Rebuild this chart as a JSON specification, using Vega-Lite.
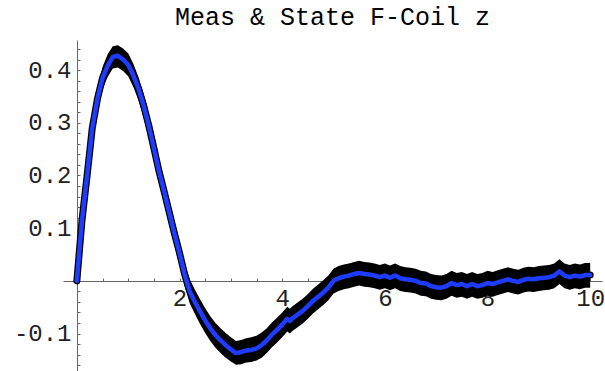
{
  "$schema": "https://vega.github.io/schema/vega-lite/v6.json",
  "width": 539,
  "height": 331,
  "autosize": {"type": "none"},
  "padding": {"left": 63, "top": 40, "right": 3, "bottom": 0},
  "background": "white",
  "title": {"text": "Meas & State F-Coil z", "font": "Liberation Mono", "fontSize": 25, "fontWeight": "normal", "color": "#000000", "anchor": "middle", "baseline": "alphabetic", "offset": -13},
  "config": {
    "view": {"stroke": null},
    "axis": {"grid": false, "domainColor": "#666666", "tickColor": "#666666", "labelColor": "#222222", "labelFont": "Liberation Mono", "labelFontSize": 24, "domainWidth": 1, "tickWidth": 1, "labelOverlap": false, "labelFlush": false}
  },
  "data": {"values": [
    {"x": 0, "est": 0, "lo": -0.006, "hi": 0.006},
    {"x": 0.1, "est": 0.115, "lo": 0.097, "hi": 0.134},
    {"x": 0.2, "est": 0.2, "lo": 0.178, "hi": 0.222},
    {"x": 0.3, "est": 0.29, "lo": 0.268, "hi": 0.311},
    {"x": 0.4, "est": 0.345, "lo": 0.323, "hi": 0.366},
    {"x": 0.5, "est": 0.385, "lo": 0.363, "hi": 0.406},
    {"x": 0.6, "est": 0.408, "lo": 0.387, "hi": 0.43},
    {"x": 0.7, "est": 0.425, "lo": 0.403, "hi": 0.445},
    {"x": 0.8, "est": 0.427, "lo": 0.405, "hi": 0.447},
    {"x": 0.9, "est": 0.42, "lo": 0.398, "hi": 0.441},
    {"x": 1.0, "est": 0.41, "lo": 0.388, "hi": 0.432},
    {"x": 1.1, "est": 0.39, "lo": 0.368, "hi": 0.412},
    {"x": 1.2, "est": 0.365, "lo": 0.343, "hi": 0.387},
    {"x": 1.3, "est": 0.333, "lo": 0.311, "hi": 0.355},
    {"x": 1.4, "est": 0.295, "lo": 0.273, "hi": 0.317},
    {"x": 1.5, "est": 0.252, "lo": 0.23, "hi": 0.274},
    {"x": 1.6, "est": 0.208, "lo": 0.186, "hi": 0.23},
    {"x": 1.7, "est": 0.17, "lo": 0.148, "hi": 0.192},
    {"x": 1.8, "est": 0.13, "lo": 0.108, "hi": 0.152},
    {"x": 1.9, "est": 0.09, "lo": 0.068, "hi": 0.112},
    {"x": 2.0, "est": 0.053, "lo": 0.031, "hi": 0.075},
    {"x": 2.1, "est": 0.012, "lo": -0.01, "hi": 0.034},
    {"x": 2.2, "est": -0.02, "lo": -0.043, "hi": 0.003},
    {"x": 2.3, "est": -0.04, "lo": -0.063, "hi": -0.017},
    {"x": 2.4, "est": -0.058, "lo": -0.082, "hi": -0.035},
    {"x": 2.5, "est": -0.075, "lo": -0.099, "hi": -0.052},
    {"x": 2.6, "est": -0.09, "lo": -0.114, "hi": -0.067},
    {"x": 2.7, "est": -0.103, "lo": -0.127, "hi": -0.08},
    {"x": 2.8, "est": -0.113, "lo": -0.137, "hi": -0.09},
    {"x": 2.9, "est": -0.122, "lo": -0.146, "hi": -0.099},
    {"x": 3.0, "est": -0.13, "lo": -0.153, "hi": -0.107},
    {"x": 3.1, "est": -0.137, "lo": -0.159, "hi": -0.114},
    {"x": 3.2, "est": -0.135, "lo": -0.158, "hi": -0.112},
    {"x": 3.3, "est": -0.132, "lo": -0.155, "hi": -0.109},
    {"x": 3.4, "est": -0.131, "lo": -0.154, "hi": -0.107},
    {"x": 3.5, "est": -0.128, "lo": -0.151, "hi": -0.104},
    {"x": 3.6, "est": -0.122, "lo": -0.146, "hi": -0.098},
    {"x": 3.7, "est": -0.113, "lo": -0.137, "hi": -0.09},
    {"x": 3.8, "est": -0.102, "lo": -0.126, "hi": -0.079},
    {"x": 3.9, "est": -0.093, "lo": -0.117, "hi": -0.07},
    {"x": 4.0, "est": -0.083, "lo": -0.107, "hi": -0.06},
    {"x": 4.1, "est": -0.072, "lo": -0.096, "hi": -0.049},
    {"x": 4.15, "est": -0.076, "lo": -0.1, "hi": -0.053},
    {"x": 4.2, "est": -0.071, "lo": -0.095, "hi": -0.048},
    {"x": 4.3, "est": -0.064, "lo": -0.088, "hi": -0.041},
    {"x": 4.4, "est": -0.057, "lo": -0.081, "hi": -0.034},
    {"x": 4.5, "est": -0.048, "lo": -0.072, "hi": -0.025},
    {"x": 4.6, "est": -0.038, "lo": -0.062, "hi": -0.015},
    {"x": 4.7, "est": -0.03, "lo": -0.054, "hi": -0.007},
    {"x": 4.8, "est": -0.022, "lo": -0.046, "hi": 0.001},
    {"x": 4.9, "est": -0.013, "lo": -0.037, "hi": 0.01},
    {"x": 5.0, "est": 0.0, "lo": -0.024, "hi": 0.023},
    {"x": 5.1, "est": 0.005, "lo": -0.019, "hi": 0.028},
    {"x": 5.2, "est": 0.008, "lo": -0.016, "hi": 0.031},
    {"x": 5.3, "est": 0.01, "lo": -0.014, "hi": 0.033},
    {"x": 5.4, "est": 0.013, "lo": -0.011, "hi": 0.036},
    {"x": 5.5, "est": 0.015, "lo": -0.009, "hi": 0.038},
    {"x": 5.6, "est": 0.013, "lo": -0.011, "hi": 0.036},
    {"x": 5.7, "est": 0.012, "lo": -0.012, "hi": 0.035},
    {"x": 5.8, "est": 0.01, "lo": -0.014, "hi": 0.033},
    {"x": 5.9, "est": 0.007, "lo": -0.017, "hi": 0.03},
    {"x": 6.0, "est": 0.01, "lo": -0.014, "hi": 0.033},
    {"x": 6.1, "est": 0.006, "lo": -0.018, "hi": 0.029},
    {"x": 6.2, "est": 0.01, "lo": -0.014, "hi": 0.033},
    {"x": 6.3, "est": 0.005, "lo": -0.019, "hi": 0.028},
    {"x": 6.4, "est": 0.003, "lo": -0.021, "hi": 0.026},
    {"x": 6.5, "est": 0.002, "lo": -0.022, "hi": 0.025},
    {"x": 6.6, "est": 0.0, "lo": -0.024, "hi": 0.023},
    {"x": 6.7, "est": -0.004, "lo": -0.028, "hi": 0.019},
    {"x": 6.8, "est": -0.005, "lo": -0.029, "hi": 0.018},
    {"x": 6.9, "est": -0.01, "lo": -0.034, "hi": 0.013},
    {"x": 7.0, "est": -0.012, "lo": -0.036, "hi": 0.011},
    {"x": 7.1, "est": -0.013, "lo": -0.037, "hi": 0.01},
    {"x": 7.2, "est": -0.01, "lo": -0.034, "hi": 0.013},
    {"x": 7.3, "est": -0.004, "lo": -0.028, "hi": 0.019},
    {"x": 7.4, "est": -0.008, "lo": -0.032, "hi": 0.015},
    {"x": 7.5, "est": -0.006, "lo": -0.03, "hi": 0.017},
    {"x": 7.6, "est": -0.01, "lo": -0.034, "hi": 0.013},
    {"x": 7.7, "est": -0.006, "lo": -0.03, "hi": 0.017},
    {"x": 7.8, "est": -0.01, "lo": -0.034, "hi": 0.013},
    {"x": 7.9, "est": -0.008, "lo": -0.032, "hi": 0.015},
    {"x": 8.0, "est": -0.004, "lo": -0.028, "hi": 0.019},
    {"x": 8.1, "est": -0.006, "lo": -0.03, "hi": 0.017},
    {"x": 8.2, "est": -0.003, "lo": -0.027, "hi": 0.02},
    {"x": 8.3, "est": 0.0, "lo": -0.024, "hi": 0.023},
    {"x": 8.4, "est": 0.003, "lo": -0.021, "hi": 0.026},
    {"x": 8.5, "est": 0.0, "lo": -0.024, "hi": 0.023},
    {"x": 8.6, "est": -0.002, "lo": -0.026, "hi": 0.021},
    {"x": 8.7, "est": 0.002, "lo": -0.022, "hi": 0.025},
    {"x": 8.8, "est": 0.004, "lo": -0.02, "hi": 0.027},
    {"x": 8.9, "est": 0.003, "lo": -0.021, "hi": 0.026},
    {"x": 9.0, "est": 0.005, "lo": -0.019, "hi": 0.028},
    {"x": 9.1, "est": 0.006, "lo": -0.018, "hi": 0.029},
    {"x": 9.2, "est": 0.007, "lo": -0.017, "hi": 0.03},
    {"x": 9.3, "est": 0.01, "lo": -0.014, "hi": 0.033},
    {"x": 9.4, "est": 0.018, "lo": -0.006, "hi": 0.041},
    {"x": 9.5, "est": 0.01, "lo": -0.014, "hi": 0.033},
    {"x": 9.6, "est": 0.007, "lo": -0.017, "hi": 0.03},
    {"x": 9.7, "est": 0.01, "lo": -0.014, "hi": 0.033},
    {"x": 9.8, "est": 0.008, "lo": -0.016, "hi": 0.031},
    {"x": 9.9, "est": 0.011, "lo": -0.013, "hi": 0.034},
    {"x": 10.0, "est": 0.011, "lo": -0.013, "hi": 0.034}
  ]},
  "encoding": {
    "x": {"field": "x", "type": "quantitative",
      "scale": {"domain": [-0.27, 10.23], "nice": false, "zero": false},
      "axis": {"title": null, "orient": "bottom", "offset": -90, "tickSize": -3, "labelPadding": 8, "labelBaseline": "top", "labelAlign": "center",
        "values": [0, 0.5, 1, 1.5, 2, 2.5, 3, 3.5, 4, 4.5, 5, 5.5, 6, 6.5, 7, 7.5, 8, 8.5, 9, 9.5, 10],
        "labelExpr": "(datum.value > 0 && datum.value % 2 == 0) ? format(datum.value, 'd') : ''"}
    }
  },
  "layer": [
    {
      "mark": {"type": "area", "color": "#000000", "opacity": 1},
      "encoding": {
        "y": {"field": "lo", "type": "quantitative",
          "scale": {"domain": [-0.171, 0.457], "nice": false, "zero": false},
          "axis": {"title": null, "orient": "left", "offset": -14, "tickSize": -3, "labelPadding": 9, "labelAlign": "right", "labelBaseline": "middle",
            "values": [-0.16, -0.14, -0.12, -0.1, -0.08, -0.06, -0.04, -0.02, 0.02, 0.04, 0.06, 0.08, 0.1, 0.12, 0.14, 0.16, 0.18, 0.2, 0.22, 0.24, 0.26, 0.28, 0.3, 0.32, 0.34, 0.36, 0.38, 0.4, 0.42, 0.44],
            "labelExpr": "(abs(round(datum.value * 50)) % 5 == 0) ? ((datum.value < 0 ? '-' : '') + format(abs(datum.value), '.1f')) : ''"}
        },
        "y2": {"field": "hi"}
      }
    },
    {
      "mark": {"type": "line", "color": "#000000", "strokeWidth": 7, "strokeJoin": "round", "strokeCap": "round"},
      "encoding": {"y": {"field": "est", "type": "quantitative",
          "axis": {"title": null, "orient": "left", "offset": -14, "tickSize": -3, "labelPadding": 9, "labelAlign": "right", "labelBaseline": "middle",
            "values": [-0.16, -0.14, -0.12, -0.1, -0.08, -0.06, -0.04, -0.02, 0.02, 0.04, 0.06, 0.08, 0.1, 0.12, 0.14, 0.16, 0.18, 0.2, 0.22, 0.24, 0.26, 0.28, 0.3, 0.32, 0.34, 0.36, 0.38, 0.4, 0.42, 0.44],
            "labelExpr": "(abs(round(datum.value * 50)) % 5 == 0) ? ((datum.value < 0 ? '-' : '') + format(abs(datum.value), '.1f')) : ''"}}}
    },
    {
      "mark": {"type": "line", "color": "#1e3cff", "strokeWidth": 4.5, "strokeJoin": "round", "strokeCap": "round"},
      "encoding": {"y": {"field": "est", "type": "quantitative",
          "axis": {"title": null, "orient": "left", "offset": -14, "tickSize": -3, "labelPadding": 9, "labelAlign": "right", "labelBaseline": "middle",
            "values": [-0.16, -0.14, -0.12, -0.1, -0.08, -0.06, -0.04, -0.02, 0.02, 0.04, 0.06, 0.08, 0.1, 0.12, 0.14, 0.16, 0.18, 0.2, 0.22, 0.24, 0.26, 0.28, 0.3, 0.32, 0.34, 0.36, 0.38, 0.4, 0.42, 0.44],
            "labelExpr": "(abs(round(datum.value * 50)) % 5 == 0) ? ((datum.value < 0 ? '-' : '') + format(abs(datum.value), '.1f')) : ''"}}}
    }
  ]
}
